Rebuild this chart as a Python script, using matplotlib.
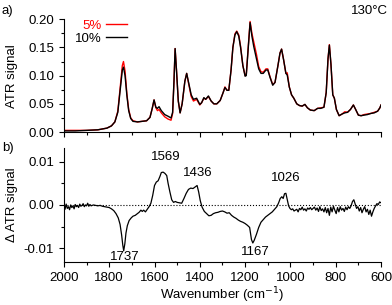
import matplotlib
matplotlib.use('Agg')
import matplotlib.pyplot as plt
from matplotlib.ticker import MultipleLocator, FormatStrFormatter

plt.rcParams['font.family'] = ['Liberation Sans', 'DejaVu Sans']
plt.rcParams['axes.unicode_minus'] = False

# panel a) ATR spectra at 130 C
wn_a = [2000, 1950, 1900, 1850, 1810, 1790, 1775, 1762, 1750, 1742, 1737, 1730, 1722, 1714,
        1705, 1695, 1675, 1655, 1635, 1620, 1610, 1602, 1594, 1587, 1580, 1570, 1555, 1540,
        1527, 1520, 1514, 1509, 1503, 1495, 1487, 1478, 1466, 1458, 1448, 1438, 1428, 1414,
        1400, 1392, 1382, 1374, 1362, 1350, 1338, 1325, 1310, 1297, 1289, 1280, 1272, 1262,
        1254, 1245, 1237, 1228, 1220, 1210, 1200, 1195, 1186, 1178, 1170, 1162, 1150, 1140,
        1130, 1120, 1108, 1100, 1090, 1078, 1068, 1055, 1046, 1039, 1030, 1020, 1014, 1005,
        995, 985, 972, 960, 948, 936, 925, 912, 895, 880, 866, 852, 842, 834, 828, 821, 813,
        806, 797, 785, 772, 760, 748, 735, 722, 712, 700, 688, 675, 660, 645, 630, 615, 605, 600]
atr_10 = [0.002, 0.002, 0.003, 0.004, 0.007, 0.011, 0.018, 0.035, 0.080, 0.110, 0.115, 0.100,
          0.065, 0.038, 0.024, 0.019, 0.018, 0.019, 0.020, 0.026, 0.042, 0.057, 0.044, 0.042,
          0.045, 0.038, 0.031, 0.028, 0.025, 0.035, 0.090, 0.148, 0.110, 0.055, 0.034, 0.050,
          0.090, 0.104, 0.085, 0.066, 0.058, 0.060, 0.049, 0.052, 0.061, 0.058, 0.064, 0.055,
          0.050, 0.050, 0.056, 0.070, 0.079, 0.074, 0.074, 0.110, 0.150, 0.172, 0.178, 0.170,
          0.150, 0.118, 0.099, 0.100, 0.150, 0.194, 0.170, 0.152, 0.130, 0.112, 0.104, 0.104,
          0.110, 0.110, 0.097, 0.083, 0.088, 0.118, 0.140, 0.147, 0.128, 0.104, 0.101, 0.080,
          0.066, 0.060, 0.050, 0.047, 0.046, 0.049, 0.043, 0.039, 0.038, 0.042, 0.042, 0.044,
          0.070, 0.130, 0.154, 0.120, 0.066, 0.060, 0.040, 0.029, 0.032, 0.034, 0.035, 0.040,
          0.048, 0.040, 0.030, 0.029, 0.030, 0.031, 0.033, 0.034, 0.037, 0.043, 0.048]
atr_5 = [0.003, 0.003, 0.003, 0.004, 0.007, 0.011, 0.018, 0.037, 0.085, 0.118, 0.125, 0.108,
         0.068, 0.040, 0.025, 0.020, 0.018, 0.019, 0.020, 0.026, 0.042, 0.057, 0.043, 0.038,
         0.040, 0.034, 0.027, 0.023, 0.021, 0.033, 0.090, 0.148, 0.110, 0.055, 0.034, 0.050,
         0.090, 0.104, 0.083, 0.063, 0.055, 0.058, 0.048, 0.052, 0.060, 0.058, 0.063, 0.055,
         0.050, 0.050, 0.056, 0.070, 0.080, 0.074, 0.074, 0.110, 0.150, 0.174, 0.179, 0.172,
         0.152, 0.118, 0.100, 0.101, 0.152, 0.196, 0.175, 0.160, 0.138, 0.116, 0.107, 0.106,
         0.112, 0.112, 0.098, 0.084, 0.088, 0.118, 0.140, 0.147, 0.128, 0.104, 0.105, 0.080,
         0.066, 0.060, 0.050, 0.047, 0.046, 0.049, 0.043, 0.039, 0.038, 0.042, 0.043, 0.044,
         0.070, 0.130, 0.155, 0.120, 0.066, 0.060, 0.040, 0.029, 0.032, 0.036, 0.035, 0.040,
         0.048, 0.040, 0.030, 0.029, 0.031, 0.032, 0.033, 0.035, 0.037, 0.043, 0.048]

# panel b) difference spectrum
wn_b = [2000, 1995, 1990, 1985, 1980, 1975, 1970, 1965, 1960, 1955, 1950, 1945, 1940, 1935,
        1930, 1925, 1920, 1915, 1910, 1905, 1900, 1895, 1890, 1885, 1880, 1870, 1860, 1850,
        1840, 1830, 1820, 1810, 1800, 1790, 1780, 1770, 1760, 1752, 1745, 1740, 1736, 1731,
        1726, 1720, 1712, 1703, 1695, 1685, 1675, 1668, 1660, 1654, 1648, 1640, 1632, 1624,
        1616, 1608, 1600, 1592, 1584, 1576, 1570, 1562, 1554, 1546, 1540, 1532, 1524, 1516,
        1508, 1500, 1490, 1480, 1470, 1460, 1450, 1440, 1430, 1420, 1412, 1405, 1398, 1390,
        1380, 1370, 1360, 1350, 1340, 1330, 1320, 1310, 1300, 1290, 1280, 1270, 1260, 1250,
        1240, 1230, 1220, 1210, 1200, 1190, 1180, 1172, 1166, 1160, 1150, 1140, 1130, 1120,
        1110, 1100, 1090, 1080, 1070, 1060, 1052, 1045, 1038, 1032, 1026, 1020, 1014, 1008,
        1002, 996, 990, 984, 978, 972, 966, 960, 954, 948, 942, 936, 930, 924, 918, 912, 906,
        900, 894, 888, 882, 876, 870, 864, 858, 852, 846, 840, 834, 828, 822, 816, 810, 804,
        798, 792, 786, 780, 774, 768, 762, 756, 750, 744, 738, 732, 726, 720, 714, 708, 702,
        696, 690, 684, 678, 672, 666, 660, 654, 648, 642, 636, 630, 624, 618, 612, 606, 600]
d_atr = [-0.0003, -0.0010, 0.0002, -0.0008, -0.0004, -0.0011, 0.0000, -0.0006, -0.0002,
         -0.0009, 0.0001, -0.0004, -0.0001, -0.0006, 0.0002, -0.0003, -0.0001, 0.0003,
         -0.0004, 0.0000, -0.0002, 0.0004, -0.0003, 0.0001, -0.0002, 0.0000, -0.0001,
         -0.0002, -0.0001, -0.0003, -0.0004, -0.0005, -0.0006, -0.0009, -0.0013, -0.0020,
         -0.0030, -0.0045, -0.0070, -0.0093, -0.0106, -0.0090, -0.0065, -0.0048, -0.0036,
         -0.0030, -0.0026, -0.0024, -0.0020, -0.0017, -0.0012, -0.0015, -0.0012, -0.0016,
         -0.0010, -0.0004, 0.0004, 0.0022, 0.0045, 0.0053, 0.0056, 0.0066, 0.0075, 0.0076,
         0.0073, 0.0068, 0.0050, 0.0030, 0.0012, 0.0006, 0.0008, 0.0006, 0.0005, 0.0004,
         0.0015, 0.0027, 0.0036, 0.0039, 0.0038, 0.0042, 0.0045, 0.0030, 0.0010, -0.0005,
         -0.0015, -0.0020, -0.0025, -0.0024, -0.0020, -0.0018, -0.0017, -0.0015, -0.0014,
         -0.0016, -0.0019, -0.0018, -0.0024, -0.0028, -0.0031, -0.0035, -0.0038, -0.0040,
         -0.0043, -0.0047, -0.0052, -0.0080, -0.0088, -0.0082, -0.0068, -0.0052, -0.0040,
         -0.0034, -0.0028, -0.0024, -0.0020, -0.0016, -0.0010, -0.0004, 0.0005, 0.0015,
         0.0019, 0.0015, 0.0026, 0.0027, 0.0012, -0.0002, -0.0008, -0.0011, -0.0009, -0.0014,
         -0.0012, -0.0010, -0.0016, -0.0008, -0.0011, -0.0005, -0.0012, -0.0009, -0.0014,
         -0.0007, -0.0010, -0.0006, -0.0011, -0.0008, -0.0005, -0.0012, -0.0007, -0.0015,
         -0.0004, -0.0013, -0.0009, -0.0016, -0.0006, -0.0018, -0.0008, -0.0024, -0.0005,
         -0.0016, -0.0003, -0.0012, -0.0020, -0.0006, -0.0016, -0.0004, -0.0012, -0.0008,
         -0.0015, -0.0005, -0.0011, -0.0004, -0.0008, -0.0002, 0.0008, 0.0012, 0.0002,
         -0.0008, -0.0004, -0.0014, -0.0006, -0.0018, -0.0010, -0.0004, -0.0016, -0.0010,
         -0.0022, -0.0012, -0.0026, -0.0016, -0.0008, -0.0002, 0.0003, 0.0001, 0.0007, 0.0005]

peak_labels = ['1737', '1569', '1436', '1167', '1026']
peak_x = [1731, 1549, 1408, 1156, 1022]
peak_y = [-0.0120, 0.0110, 0.0074, -0.0109, 0.0062]

fig = plt.figure(figsize=(3.92, 3.05), dpi=100)
ax1 = fig.add_axes([0.163, 0.567, 0.809, 0.370])
ax2 = fig.add_axes([0.163, 0.141, 0.809, 0.374])

ax1.plot(wn_a, atr_5, color='#ff0000', lw=1.0, label='5%')
ax1.plot(wn_a, atr_10, color='black', lw=1.0, label='10%')
ax1.set_ylim(0, 0.20)
ax1.yaxis.set_major_locator(MultipleLocator(0.05))
ax1.yaxis.set_minor_locator(MultipleLocator(0.025))
ax1.yaxis.set_major_formatter(FormatStrFormatter('%.2f'))
ax1.set_ylabel('ATR signal', fontsize=9.5)
ax1.tick_params(axis='x', labelbottom=False)
ax1.legend(frameon=False, markerfirst=False, labelcolor='linecolor', fontsize=9.5,
           handlelength=1.6, handletextpad=0.3, labelspacing=0.05, borderpad=0,
           loc='upper left', bbox_to_anchor=(0.035, 0.995), borderaxespad=0)

ax2.plot(wn_b, d_atr, color='black', lw=0.9)
ax2.axhline(0, color='black', ls=':', lw=0.8)
ax2.set_ylim(-0.0132, 0.0132)
ax2.yaxis.set_major_locator(MultipleLocator(0.01))
ax2.yaxis.set_minor_locator(MultipleLocator(0.005))
ax2.yaxis.set_major_formatter(FormatStrFormatter('%.2f'))
ax2.set_ylabel('Δ ATR signal', fontsize=9.5)
ax2.set_xlabel('Wavenumber (cm$^{-1}$)', fontsize=9.5, labelpad=1)
for lab, x, y in zip(peak_labels, peak_x, peak_y):
    ax2.text(x, y, lab, ha='center', va='center', fontsize=9.5)

for ax in (ax1, ax2):
    ax.set_xlim(2000, 600)
    ax.xaxis.set_major_locator(MultipleLocator(200))
    ax.xaxis.set_minor_locator(MultipleLocator(100))
    ax.spines['top'].set_visible(False)
    ax.spines['right'].set_visible(False)
    ax.tick_params(which='major', direction='out', length=3.5, width=0.8, labelsize=9.5)
    ax.tick_params(which='minor', direction='out', length=2, width=0.8)
    ax.yaxis.set_label_coords(-0.145, 0.5)

fig.text(0.005, 0.965, 'a)', fontsize=9.5, va='center')
fig.text(0.005, 0.515, 'b)', fontsize=9.5, va='center')
fig.text(0.99, 0.965, '130°C', fontsize=9.5, ha='right', va='center')

fig.savefig('out.png', dpi=100)
